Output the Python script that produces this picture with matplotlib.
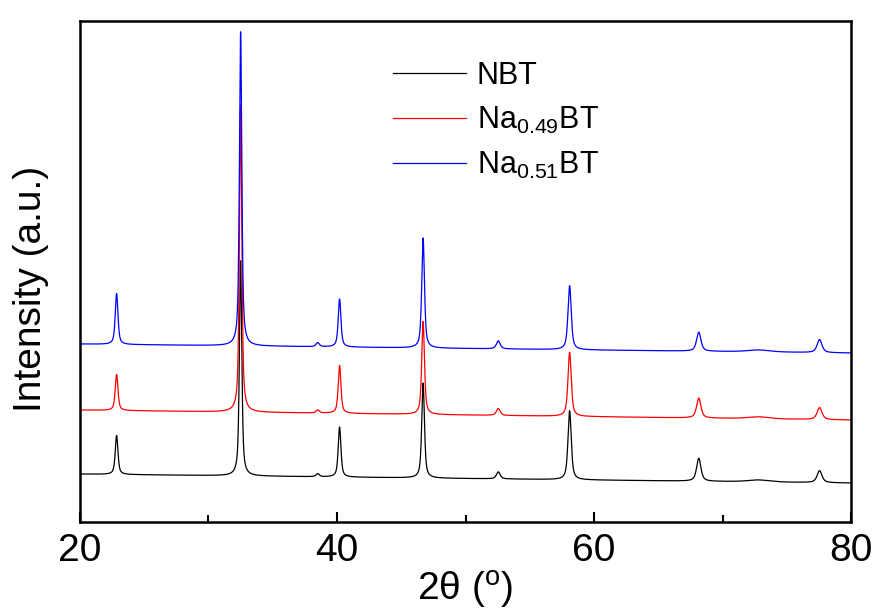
import numpy as np
import matplotlib
matplotlib.use('Agg')
import matplotlib.pyplot as plt

plt.rcParams['font.family'] = ['Liberation Sans', 'DejaVu Sans']
plt.rcParams['mathtext.fontset'] = 'custom'
plt.rcParams['mathtext.rm'] = 'Liberation Sans'
plt.rcParams['mathtext.it'] = 'Liberation Sans:italic'
plt.rcParams['mathtext.bf'] = 'Liberation Sans:bold'

# Reflection list (2theta in degrees) and peak widths
peak_pos = [22.85, 32.5, 38.5, 40.2, 46.7, 52.55, 58.1, 68.15, 72.8, 77.55]
peak_fwhm = [0.25, 0.22, 0.3, 0.25, 0.25, 0.35, 0.3, 0.4, 2.0, 0.45]

# Peak intensities (a.u.) above background for each composition
nbt_int = [39, 215, 3, 50, 95, 7, 69, 23, 2, 12]
na049_int = [36, 307, 3, 48, 93, 7, 64, 20, 2, 12]
na051_int = [51, 314, 4, 48, 110, 8, 64, 19, 2, 13]

# Background level at 20 and 80 degrees (includes the stacking offset)
bg_2theta = [20, 80]
nbt_bg = [48, 39]
na049_bg = [112, 102]
na051_bg = [178, 169]

labels = ['NBT', r'Na$_{0.49}$BT', r'Na$_{0.51}$BT']
colors = ['black', 'red', 'blue']


def pattern(x, heights, bg, eta=0.65):
    y = np.interp(x, bg_2theta, bg).astype(float)
    for c, w, h in zip(peak_pos, peak_fwhm, heights):
        hw = w / 2
        lor = 1 / (1 + ((x - c) / hw) ** 2)
        gau = np.exp(-np.log(2) * ((x - c) / hw) ** 2)
        y += h * (eta * lor + (1 - eta) * gau)
    return y


two_theta = np.arange(20, 80.005, 0.01)

fig = plt.figure(figsize=(8.77, 6.12), dpi=100)
ax = fig.add_axes([0.0912, 0.147, 0.8792, 0.8187])

for heights, bg, lab, col in zip([nbt_int, na049_int, na051_int],
                                 [nbt_bg, na049_bg, na051_bg], labels, colors):
    ax.plot(two_theta, pattern(two_theta, heights, bg), color=col, lw=0.9, label=lab)

ax.set_xlim(20, 80)
ax.set_ylim(0, 501)
ax.set_xticks([20, 40, 60, 80])
ax.set_xticks([30, 50, 70], minor=True)
ax.set_yticks([])
ax.tick_params(axis='x', which='major', direction='in', length=7, width=1.5,
               labelsize=28, pad=8)
ax.tick_params(axis='x', which='minor', direction='in', length=5, width=1.5)
for s in ax.spines.values():
    s.set_linewidth(1.8)

ax.set_xlabel(r'2θ ($^{\rm o}$)', fontsize=28, labelpad=0)
ax.set_ylabel('Intensity (a.u.)', fontsize=28)
ax.yaxis.set_label_coords(-0.04, 0.465)

ax.legend(loc='upper left', bbox_to_anchor=(0.37, 0.975), frameon=False,
          fontsize=22, handlelength=2.4, handletextpad=0.35, labelspacing=0.45)

fig.savefig('out.png', dpi=100)
